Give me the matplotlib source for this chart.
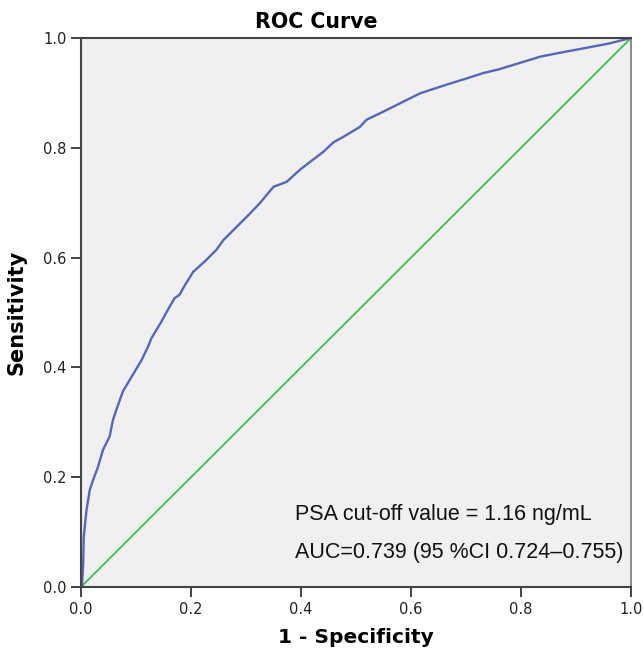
import numpy as np
import matplotlib.pyplot as plt

# ROC points (1 - specificity, sensitivity)
fpr = [0.0, 0.002, 0.004, 0.005, 0.010, 0.016, 0.022, 0.031, 0.040, 0.052, 0.058,
       0.064, 0.076, 0.092, 0.110, 0.122, 0.128, 0.146, 0.158, 0.170, 0.179, 0.189,
       0.204, 0.225, 0.246, 0.259, 0.283, 0.305, 0.325, 0.350, 0.374, 0.398, 0.420,
       0.441, 0.459, 0.477, 0.507, 0.519, 0.550, 0.580, 0.616, 0.640, 0.671, 0.700,
       0.731, 0.760, 0.786, 0.835, 0.870, 0.913, 0.960, 1.0]
tpr = [0.0, 0.004, 0.043, 0.092, 0.140, 0.177, 0.195, 0.219, 0.250, 0.274, 0.304,
       0.322, 0.356, 0.383, 0.413, 0.438, 0.453, 0.483, 0.505, 0.526, 0.532, 0.550,
       0.574, 0.593, 0.614, 0.632, 0.656, 0.678, 0.699, 0.729, 0.738, 0.760, 0.777,
       0.793, 0.810, 0.820, 0.838, 0.851, 0.866, 0.881, 0.899, 0.907, 0.917, 0.926,
       0.936, 0.943, 0.951, 0.966, 0.973, 0.981, 0.990, 1.0]
ref_line = [0.0, 1.0]

fig = plt.figure(figsize=(6.44, 6.53), dpi=100)
ax = fig.add_axes([81 / 644, 66 / 653, 550 / 644, 549 / 653])
ax.set_facecolor('#f0f0f0')

ax.plot(ref_line, ref_line, color='#3dbf4b', linewidth=1.3)
ax.plot(fpr, tpr, color='#5467b8', linewidth=1.7)

ax.set_xlim(0, 1)
ax.set_ylim(0, 1)
ticks = [0.0, 0.2, 0.4, 0.6, 0.8, 1.0]
ax.set_xticks(ticks)
ax.set_yticks(ticks)
ax.set_xticklabels(['%.1f' % t for t in ticks])
ax.set_yticklabels(['%.1f' % t for t in ticks])
ax.tick_params(direction='out', length=7, width=1.2, pad=3.5, labelsize=10.5, colors='#222222')
for side in ['left', 'bottom', 'top']:
    ax.spines[side].set_color('#444444')
    ax.spines[side].set_linewidth(1.5)
ax.spines['right'].set_color('#777777')
ax.spines['right'].set_linewidth(1.2)

fig.text(316 / 644, (653 - 28.5) / 653, 'ROC Curve', fontsize=14.8, fontweight='bold',
         ha='center', va='baseline')
ax.set_xlabel('1 - Specificity', fontsize=14.5, fontweight='bold', labelpad=8)
ax.set_ylabel('Sensitivity', fontsize=15, fontweight='bold', labelpad=12)

ax.text(0.389, 0.122, 'PSA cut-off value = 1.16 ng/mL', fontsize=15.5,
        family='Liberation Sans', va='baseline', color='#111111')
ax.text(0.389, 0.053, 'AUC=0.739 (95 %CI 0.724\u20130.755)', fontsize=15.5,
        family='Liberation Sans', va='baseline', color='#111111')

fig.savefig('out.png', dpi=100)
